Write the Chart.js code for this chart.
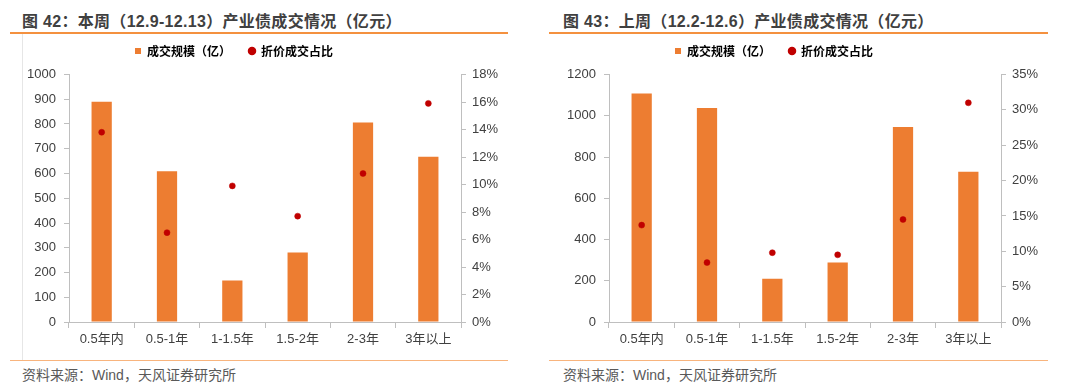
<!DOCTYPE html>
<html>
<head>
<meta charset="utf-8">
<script src="https://cdn.jsdelivr.net/npm/chart.js@4.4.0/dist/chart.umd.min.js"></script>
<style>
  body { margin:0; background:#fff; width:1080px; height:389px; position:relative; overflow:hidden;
         font-family:"Liberation Sans","Noto Sans CJK SC",sans-serif; }
  .title { position:absolute; top:8px; font-size:16px; font-weight:bold; color:#404040; letter-spacing:0.3px;
           font-family:"Liberation Sans","Noto Sans CJK SC",sans-serif; white-space:nowrap; }
  .rule { position:absolute; height:2px; background:#f4913f; }
  .rule.thin { height:1px; background:#f8b47d; }
  .side { position:absolute; width:1px; background:#e6e6e6; }
  .src { position:absolute; top:364px; font-size:14px; color:#595959; white-space:nowrap; }
  .box { position:absolute; top:36px; width:486px; height:320px; }
</style>
</head>
<body>
<div class="title" style="left:22px">图 42：本周（12.9-12.13）产业债成交情况（亿元）</div>
<div class="title" style="left:563px">图 43：上周（12.2-12.6）产业债成交情况（亿元）</div>
<div class="rule" style="left:10px;top:32px;width:498px"></div>
<div class="rule" style="left:549px;top:32px;width:499px"></div>
<div class="side" style="left:22px;top:34px;height:326px"></div>
<div class="rule thin" style="left:10px;top:360px;width:498px"></div>
<div class="rule thin" style="left:549px;top:360px;width:499px"></div>
<div class="src" style="left:22px">资料来源：Wind，天风证券研究所</div>
<div class="src" style="left:563px">资料来源：Wind，天风证券研究所</div>
<div class="box" style="left:22px"><canvas id="chart-this-week"></canvas></div>
<div class="box" style="left:562px"><canvas id="chart-last-week"></canvas></div>

<script>
// categories
var terms = ['0.5年内', '0.5-1年', '1-1.5年', '1.5-2年', '2-3年', '3年以上'];

// this week (12.9-12.13)
var volThis = [890, 609, 168, 281, 806, 668];
var pctThis = [13.8, 6.5, 9.9, 7.7, 10.8, 15.9];

// last week (12.2-12.6)
var volLast = [1108, 1037, 210, 288, 945, 728];
var pctLast = [13.7, 8.4, 9.8, 9.5, 14.5, 31.0];

var orange = '#ed7d31';
var red = '#c00000';
var axisGray = '#bfbfbf';
var textGray = '#404040';

// legend sits a bit left of centre and leaves a gap above the plot
var legendTweak = {
  id: 'legendTweak',
  beforeInit: function(chart) {
    var fit = chart.legend.fit;
    chart.legend.fit = function() {
      fit.call(this);
      this.height = 38.5;
    };
  },
  afterLayout: function(chart) {
    chart.legend.left -= 31;
    chart.legend.right -= 31;
    chart.legend.top -= 9;
  }
};

function makeChart(id, vols, pcts, leftMax, leftStep, rightMax, rightStep) {
  var tickFont = { family: '"Liberation Sans","Noto Sans CJK SC",sans-serif', size: 13 };
  return new Chart(document.getElementById(id), {
    data: {
      labels: terms,
      datasets: [{
        type: 'line',
        label: '折价成交占比',
        data: pcts,
        yAxisID: 'y1',
        showLine: false,
        pointStyle: 'circle',
        pointRadius: 3,
        pointBorderWidth: 0.5,
        pointBackgroundColor: red,
        pointBorderColor: red,
        order: 0
      }, {
        type: 'bar',
        label: '成交规模（亿）',
        data: vols,
        yAxisID: 'y',
        backgroundColor: orange,
        barPercentage: 0.31,
        categoryPercentage: 1,
        order: 1
      }]
    },
    plugins: [legendTweak],
    options: {
      responsive: true,
      maintainAspectRatio: false,
      animation: false,
      layout: { padding: 0 },
      plugins: {
        tooltip: { enabled: false },
        legend: {
          reverse: true,
          labels: {
            usePointStyle: true,
            boxWidth: 6,
            boxHeight: 6,
            padding: 18,
            color: textGray,
            font: { family: '"Noto Sans CJK SC",sans-serif', size: 12, weight: 'bold' },
            generateLabels: function(chart) {
              return chart.data.datasets.map(function(ds, i) {
                return {
                  text: ds.label,
                  fillStyle: ds.type === 'bar' ? orange : red,
                  strokeStyle: ds.type === 'bar' ? orange : red,
                  lineWidth: 0,
                  pointStyle: ds.type === 'bar' ? 'rect' : 'circle',
                  datasetIndex: i
                };
              });
            }
          }
        }
      },
      scales: {
        x: {
          grid: { display: true, drawOnChartArea: false, offset: true, tickLength: 6, color: axisGray },
          border: { color: axisGray, width: 1 },
          ticks: { color: textGray, font: tickFont, padding: 4 },
          afterFit: function(s) { s.height = 34; }
        },
        y: {
          position: 'left',
          min: 0, max: leftMax,
          grid: { drawOnChartArea: false, tickLength: 5, color: axisGray },
          border: { color: axisGray },
          ticks: {
            stepSize: leftStep, color: textGray, font: tickFont, padding: 8,
            callback: function(v) { return String(v); }
          },
          afterFit: function(s) { s.width = 47; }
        },
        y1: {
          position: 'right',
          min: 0, max: rightMax,
          grid: { drawOnChartArea: false, tickLength: 5, color: axisGray },
          border: { color: axisGray },
          ticks: {
            stepSize: rightStep, color: textGray, font: tickFont, padding: 6,
            callback: function(v) { return v + '%'; }
          },
          afterFit: function(s) { s.width = 47; }
        }
      }
    }
  });
}

makeChart('chart-this-week', volThis, pctThis, 1000, 100, 18, 2);
makeChart('chart-last-week', volLast, pctLast, 1200, 200, 35, 5);
</script>
</body>
</html>
